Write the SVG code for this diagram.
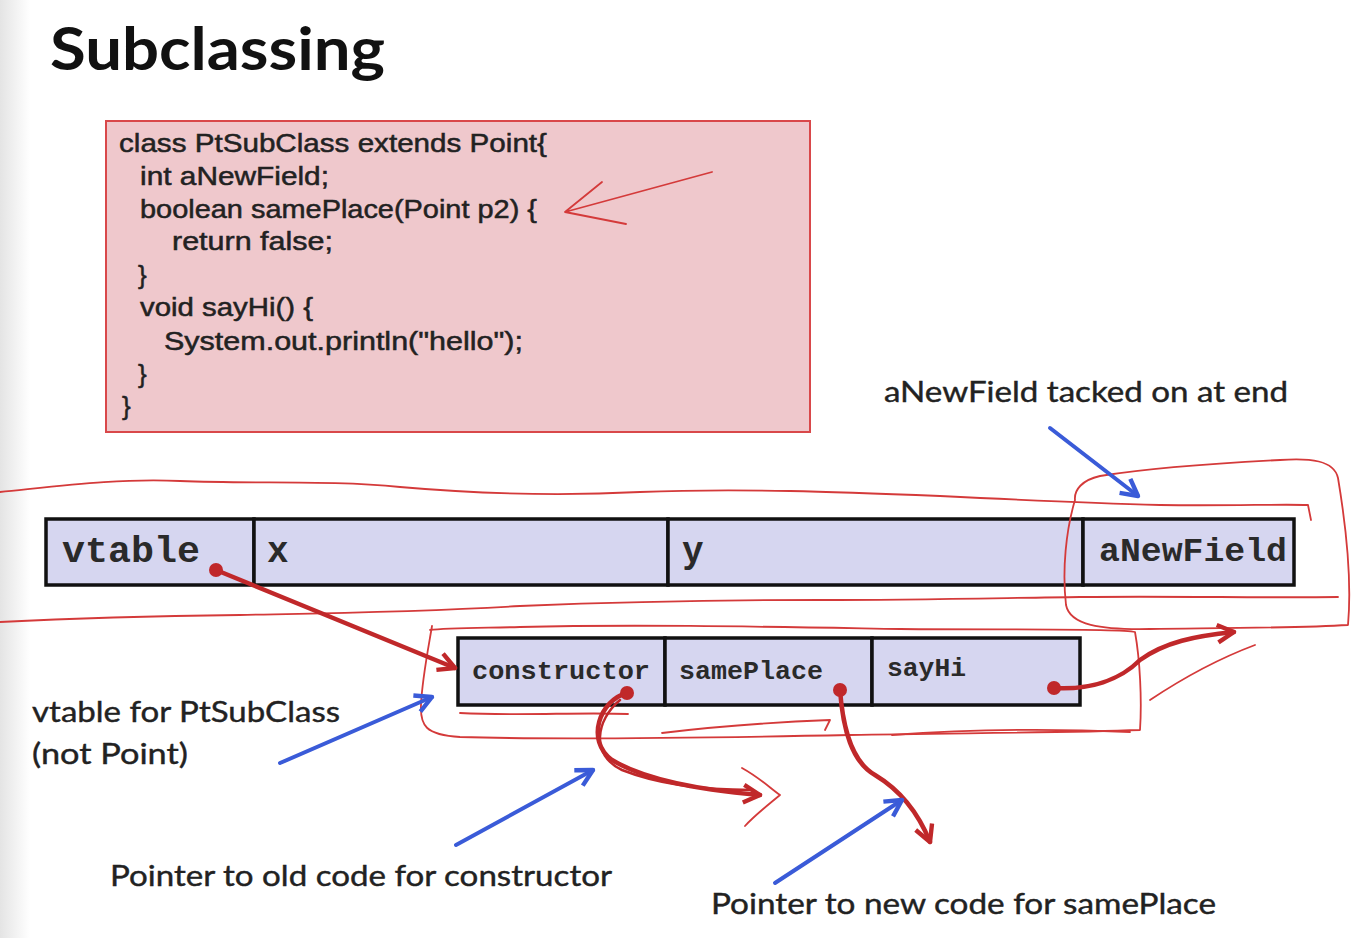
<svg xmlns="http://www.w3.org/2000/svg" width="1354" height="938" viewBox="0 0 1354 938">
<defs>
<linearGradient id="bg" x1="0" y1="0" x2="1" y2="0">
<stop offset="0" stop-color="#e4e4e4"/><stop offset="1" stop-color="#ffffff"/>
</linearGradient>
<marker id="rh" viewBox="0 0 20 20" refX="17" refY="10" markerWidth="22" markerHeight="22" markerUnits="userSpaceOnUse" orient="auto"><path d="M2,2 L17,10 L2,18" fill="none" stroke="#c0282a" stroke-width="4" stroke-linejoin="round"/></marker>
<marker id="bh" viewBox="0 0 20 20" refX="17" refY="10" markerWidth="22" markerHeight="22" markerUnits="userSpaceOnUse" orient="auto"><path d="M2,2 L17,10 L2,18" fill="none" stroke="#3a5bd8" stroke-width="4" stroke-linejoin="round"/></marker>
</defs>
<style>
.code{font-family:"Liberation Sans",Arial,sans-serif;font-size:26px;fill:#222;stroke:#222;stroke-width:0.5}
.lbl{font-family:Lato,"Liberation Sans",sans-serif;font-size:29px;fill:#222;stroke:#222;stroke-width:0.4}
.mono{font-family:"Liberation Mono","Courier New",monospace;font-weight:bold;fill:#2a2a2a}
.cell{fill:#d6d6f0;stroke:#111;stroke-width:3.5}
.ink{fill:none;stroke:#d43a3a;stroke-width:1.8;stroke-linecap:round;stroke-linejoin:round}
.red{fill:none;stroke:#c0282a;stroke-width:4.5;stroke-linecap:round}
.blue{fill:none;stroke:#3a5bd8;stroke-width:4;stroke-linecap:round}
.dot{fill:#c0282a}
</style>
<rect x="0" y="0" width="1354" height="938" fill="#ffffff"/>
<rect x="0" y="0" width="30" height="938" fill="url(#bg)"/>

<text x="50" y="70" font-family="Lato,'Liberation Sans',sans-serif" font-weight="bold" font-size="60" fill="#111" textLength="335" lengthAdjust="spacingAndGlyphs">Subclassing</text>

<g id="code">
<rect x="106" y="121" width="704" height="311" fill="#efc8cc" stroke="#d9484a" stroke-width="2"/>
<text class="code" x="119" y="152" textLength="428" lengthAdjust="spacingAndGlyphs">class PtSubClass extends Point{</text>
<text class="code" x="140" y="185" textLength="189" lengthAdjust="spacingAndGlyphs">int aNewField;</text>
<text class="code" x="140" y="218" textLength="397" lengthAdjust="spacingAndGlyphs">boolean samePlace(Point p2) {</text>
<text class="code" x="172" y="250" textLength="161" lengthAdjust="spacingAndGlyphs">return false;</text>
<text class="code" x="138" y="284">}</text>
<text class="code" x="140" y="316" textLength="173" lengthAdjust="spacingAndGlyphs">void sayHi() {</text>
<text class="code" x="164" y="350" textLength="359" lengthAdjust="spacingAndGlyphs">System.out.println("hello");</text>
<text class="code" x="138" y="383">}</text>
<text class="code" x="122" y="415">}</text>
<path class="ink" d="M712,172 L565,212 M565,212 L602,182 M565,212 L626,224"/>
</g>

<g id="object">
<rect class="cell" x="46" y="519" width="208" height="66"/>
<rect class="cell" x="254" y="519" width="414" height="66"/>
<rect class="cell" x="668" y="519" width="415" height="66"/>
<rect class="cell" x="1083" y="519" width="211" height="66"/>
<text class="mono" x="62" y="562" font-size="36" textLength="138" lengthAdjust="spacingAndGlyphs">vtable</text>
<text class="mono" x="267" y="562" font-size="36">x</text>
<text class="mono" x="682" y="562" font-size="36">y</text>
<text class="mono" x="1099" y="561" font-size="34" textLength="188" lengthAdjust="spacingAndGlyphs">aNewField</text>
</g>

<g id="vtable">
<rect class="cell" x="458" y="638" width="207" height="67"/>
<rect class="cell" x="665" y="638" width="207" height="67"/>
<rect class="cell" x="872" y="638" width="208" height="67"/>
<text class="mono" x="472" y="679" font-size="26" textLength="178" lengthAdjust="spacingAndGlyphs">constructor</text>
<text class="mono" x="679" y="679" font-size="26" textLength="144" lengthAdjust="spacingAndGlyphs">samePlace</text>
<text class="mono" x="887" y="676" font-size="26" textLength="79" lengthAdjust="spacingAndGlyphs">sayHi</text>
</g>

<g id="annotations">
<path class="ink" d="M0,492 C60,486 120,478 180,481 C260,484 330,480 400,487 C480,494 560,496 640,492 C740,488 840,492 940,496 C1020,500 1080,503 1160,505 C1230,506 1280,504 1308,505 L1311,520"/>
<path class="ink" d="M0,622 C80,618 160,616 240,615 C340,613 420,612 520,606 C620,602 720,600 820,600 C920,600 1000,598 1080,597 C1180,596 1260,598 1338,597"/>
<path class="ink" d="M1075,500 C1066,530 1062,570 1066,605 C1070,625 1100,630 1150,629 C1230,628 1300,628 1348,625 C1352,580 1345,520 1338,478 C1334,460 1310,458 1280,460 C1220,463 1150,468 1100,476 C1082,480 1074,490 1075,500"/>
<path class="ink" d="M432,626 C428,650 422,680 421,705 C420,725 425,735 460,737 C560,740 700,738 850,735 C950,733 1060,733 1140,730 C1142,700 1140,660 1135,632 C1120,628 1000,630 900,629 C780,627 640,624 520,627 C480,628 445,628 430,630"/>
<path class="ink" d="M460,713 C520,716 580,712 628,714 M662,733 C720,726 780,722 830,720 L825,730 M892,735 C960,730 1040,728 1130,732"/>
<path class="ink" d="M742,768 C760,778 770,788 780,795 C768,805 755,815 745,826"/>
<path class="ink" d="M1150,700 C1180,680 1215,660 1255,645"/>
</g>

<g id="connectors">
<path class="red" d="M216,570 L455,668" marker-end="url(#rh)"/>
<path class="red" d="M627,693 C600,700 585,740 612,760 C645,780 700,790 760,795" marker-end="url(#rh)"/>
<path class="red" style="stroke-width:2.5" d="M620,700 C596,720 590,755 622,770 C660,785 710,790 752,790"/>
<path class="red" d="M840,690 C843,730 852,762 875,775 C900,790 918,812 930,842" marker-end="url(#rh)"/>
<path class="red" d="M1054,688 C1090,690 1120,680 1140,660 C1165,642 1195,636 1234,632" marker-end="url(#rh)"/>
<circle class="dot" cx="216" cy="570" r="7"/>
<circle class="dot" cx="627" cy="693" r="7"/>
<circle class="dot" cx="840" cy="690" r="7"/>
<circle class="dot" cx="1054" cy="688" r="7"/>
<path class="blue" d="M1050,428 L1138,496" marker-end="url(#bh)"/>
<path class="blue" d="M280,763 L432,697" marker-end="url(#bh)"/>
<path class="blue" d="M456,845 L593,770" marker-end="url(#bh)"/>
<path class="blue" d="M775,883 L902,800" marker-end="url(#bh)"/>
</g>

<g id="labels">
<text class="lbl" x="884" y="402" textLength="404" lengthAdjust="spacingAndGlyphs">aNewField tacked on at end</text>
<text class="lbl" x="32" y="722" textLength="308" lengthAdjust="spacingAndGlyphs">vtable for PtSubClass</text>
<text class="lbl" x="32" y="764" textLength="156" lengthAdjust="spacingAndGlyphs">(not Point)</text>
<text class="lbl" x="110" y="886" textLength="502" lengthAdjust="spacingAndGlyphs">Pointer to old code for constructor</text>
<text class="lbl" x="711" y="914" textLength="505" lengthAdjust="spacingAndGlyphs">Pointer to new code for samePlace</text>
</g>
</svg>
